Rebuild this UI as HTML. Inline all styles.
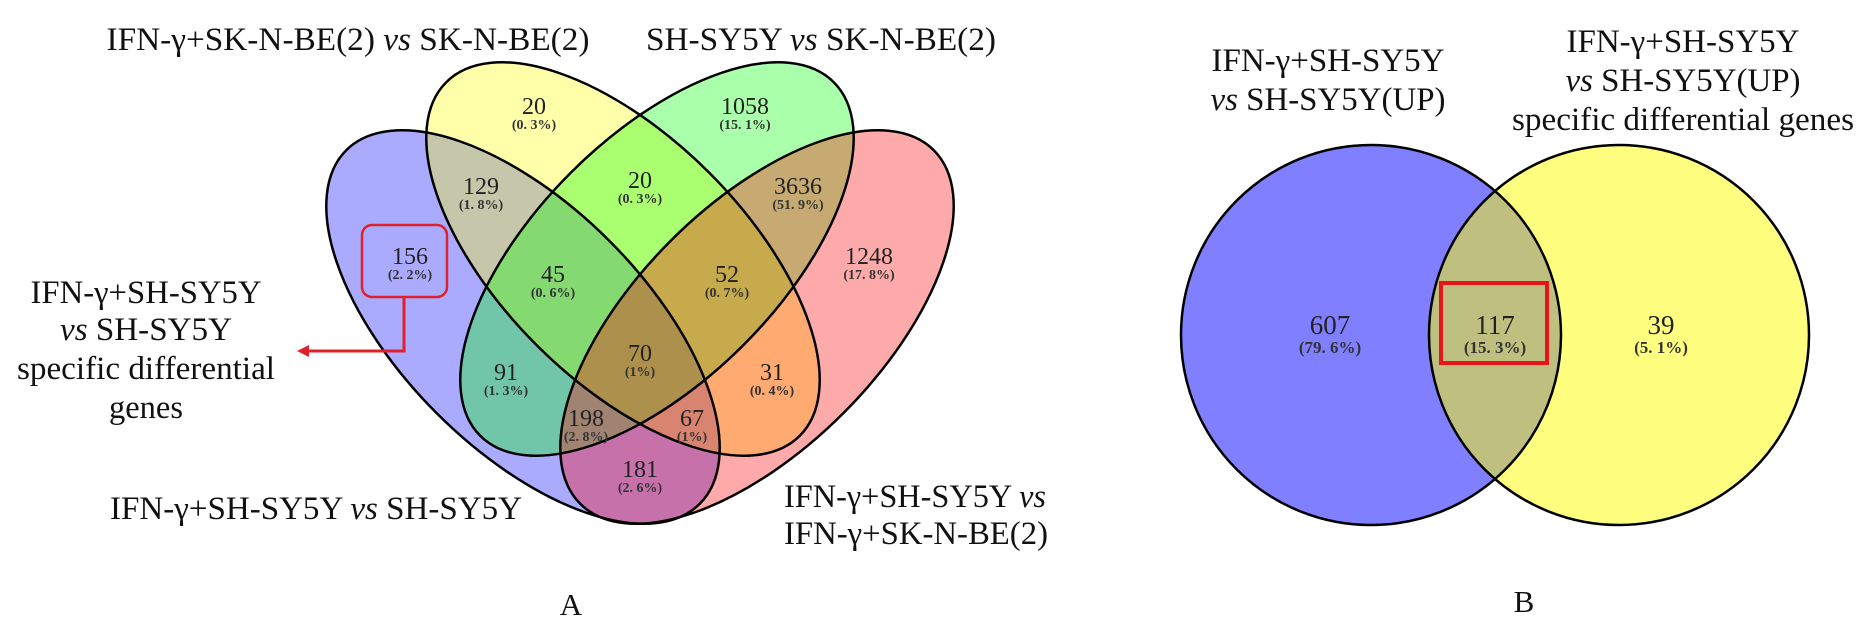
<!DOCTYPE html>
<html><head><meta charset="utf-8"><style>
html,body{margin:0;padding:0;background:#fff;}
svg{display:block;}
.lab{font-family:"Liberation Serif","Noto Serif CJK SC",serif;font-size:33px;fill:#111;}
.num{font-family:"Liberation Serif",serif;font-size:24px;fill:#222;text-anchor:middle;}
.pct{font-family:"Liberation Serif",serif;font-size:14px;font-weight:bold;fill:#333;text-anchor:middle;}
</style></head><body>
<svg id="fig" width="1872" height="641" viewBox="0 0 1872 641">
<g id="venA"></g>
<g id="venB"></g>
<g>
<text class="lab" x="348" y="50" text-anchor="middle" textLength="483" lengthAdjust="spacingAndGlyphs">IFN-γ+SK-N-BE(2) <tspan font-style="italic">vs</tspan> SK-N-BE(2)</text>
<text class="lab" x="821" y="50" text-anchor="middle" textLength="350" lengthAdjust="spacingAndGlyphs">SH-SY5Y <tspan font-style="italic">vs</tspan> SK-N-BE(2)</text>
<text class="lab" x="316" y="519" text-anchor="middle" textLength="412" lengthAdjust="spacingAndGlyphs">IFN-γ+SH-SY5Y <tspan font-style="italic">vs</tspan> SH-SY5Y</text>
<text class="lab" x="784" y="507" textLength="262" lengthAdjust="spacingAndGlyphs">IFN-γ+SH-SY5Y <tspan font-style="italic">vs</tspan></text>
<text class="lab" x="784" y="544" textLength="264" lengthAdjust="spacingAndGlyphs">IFN-γ+SK-N-BE(2)</text>
<g>
<text class="lab" x="146" y="303" text-anchor="middle" textLength="231" lengthAdjust="spacingAndGlyphs">IFN-γ+SH-SY5Y</text>
<text class="lab" x="146" y="340" text-anchor="middle" textLength="172" lengthAdjust="spacingAndGlyphs"><tspan font-style="italic">vs</tspan> SH-SY5Y</text>
<text class="lab" x="146" y="379" text-anchor="middle" textLength="258" lengthAdjust="spacingAndGlyphs">specific differential</text>
<text class="lab" x="146" y="418" text-anchor="middle" textLength="74" lengthAdjust="spacingAndGlyphs">genes</text>
</g>
<rect x="362" y="225" width="85" height="72" rx="10" fill="none" stroke="#e0202a" stroke-width="2.5"/>
<polyline points="404,297 404,351 306,351" fill="none" stroke="#e0202a" stroke-width="3"/>
<polygon points="297,351 309,345 309,357" fill="#e0202a"/>
<text class="lab" x="571" y="615" text-anchor="middle" style="font-size:31px">A</text>
</g>
<g>
<text class="lab" x="1328" y="71" text-anchor="middle" textLength="233" lengthAdjust="spacingAndGlyphs">IFN-γ+SH-SY5Y</text>
<text class="lab" x="1328" y="110" text-anchor="middle" textLength="235" lengthAdjust="spacingAndGlyphs"><tspan font-style="italic">vs</tspan> SH-SY5Y(UP)</text>
<text class="lab" x="1683" y="52" text-anchor="middle" textLength="233" lengthAdjust="spacingAndGlyphs">IFN-γ+SH-SY5Y</text>
<text class="lab" x="1683" y="91" text-anchor="middle" textLength="235" lengthAdjust="spacingAndGlyphs"><tspan font-style="italic">vs</tspan> SH-SY5Y(UP)</text>
<text class="lab" x="1683" y="130" text-anchor="middle" textLength="342" lengthAdjust="spacingAndGlyphs">specific differential genes</text>
<text class="lab" x="1524" y="612" text-anchor="middle" style="font-size:31px">B</text>
</g>
</svg>
<script>
// Panel A data
const setNamesA = ['blue', 'yellow', 'green', 'red'];
const regionCountsA = [20, 1058, 129, 20, 3636, 156, 1248, 45, 52, 70, 91, 31, 198, 67, 181];
const regionPctA = ['(0. 3%)', '(15. 1%)', '(1. 8%)', '(0. 3%)', '(51. 9%)', '(2. 2%)', '(17. 8%)', '(0. 6%)', '(0. 7%)', '(1%)', '(1. 3%)', '(0. 4%)', '(2. 8%)', '(1%)', '(2. 6%)'];
// Panel B data
const regionCountsB = [607, 117, 39];
const regionPctB = ['(79. 6%)', '(15. 3%)', '(5. 1%)'];

// layout (not data)
const ellLayout = [
  {cx:523, cy:327, rot:45, col:'#0000ff'},
  {cx:623, cy:259, rot:45, col:'#ffff00'},
  {cx:657, cy:259, rot:-45, col:'#00ff00'},
  {cx:757, cy:327, rot:-45, col:'#ff0000'}
];
const labPosA = [[534,114],[745,114],[481,194],[640,188],[798,194],[410,264],[869,264],[553,282],[727,282],[640,361],[506,380],[772,380],[586,426],[692,426],[640,477]];
const NS = 'http://www.w3.org/2000/svg';
const gA = document.getElementById('venA');
const gB = document.getElementById('venB');
function mk(tag, attrs, parent){ const e=document.createElementNS(NS,tag); for(const k in attrs) e.setAttribute(k, attrs[k]); parent.appendChild(e); return e; }

ellLayout.forEach((l,i)=>{
  const e = mk('ellipse', {cx:l.cx, cy:l.cy, rx:250, ry:122, transform:`rotate(${l.rot} ${l.cx} ${l.cy})`, fill:l.col, 'fill-opacity':0.333}, gA);
  
  
});
ellLayout.forEach((l,i)=>{
  const e = mk('ellipse', {cx:l.cx, cy:l.cy, rx:250, ry:122, transform:`rotate(${l.rot} ${l.cx} ${l.cy})`, fill:'none', stroke:'#000', 'stroke-width':2.5}, gA);
  
  
});
regionCountsA.forEach((v,i)=>{
  const t = mk('text', {class:'num', x:labPosA[i][0], y:labPosA[i][1]}, gA);
  t.textContent = v;
  
  
  const p = mk('text', {class:'pct', x:labPosA[i][0], y:labPosA[i][1]+15}, gA);
  p.textContent = regionPctA[i];
  
  
});

// Panel B
const circB = [{cx:1371, cy:335, col:'#0000ff'},{cx:1619, cy:335, col:'#ffff00'}];
circB.forEach((c,i)=>{
  const e = mk('circle', {cx:c.cx, cy:c.cy, r:190, fill:c.col, 'fill-opacity':0.5}, gB);
  
  
});
circB.forEach((c,i)=>{
  const e = mk('circle', {cx:c.cx, cy:c.cy, r:190, fill:'none', stroke:'#000', 'stroke-width':2.5}, gB);
  
  
});
const hb = mk('rect', {x:1441, y:283, width:106, height:80, fill:'none', stroke:'#e8141c', 'stroke-width':4}, gB);


const labPosB = [1330, 1495, 1661];
regionCountsB.forEach((v,i)=>{
  const t = mk('text', {class:'num', x:labPosB[i], y:334, style:'font-size:27px'}, gB);
  t.textContent = v;
  
  
  const p = mk('text', {class:'pct', x:labPosB[i], y:353, style:'font-size:17px'}, gB);
  p.textContent = regionPctB[i];
  
  
});
</script>
</body></html>
